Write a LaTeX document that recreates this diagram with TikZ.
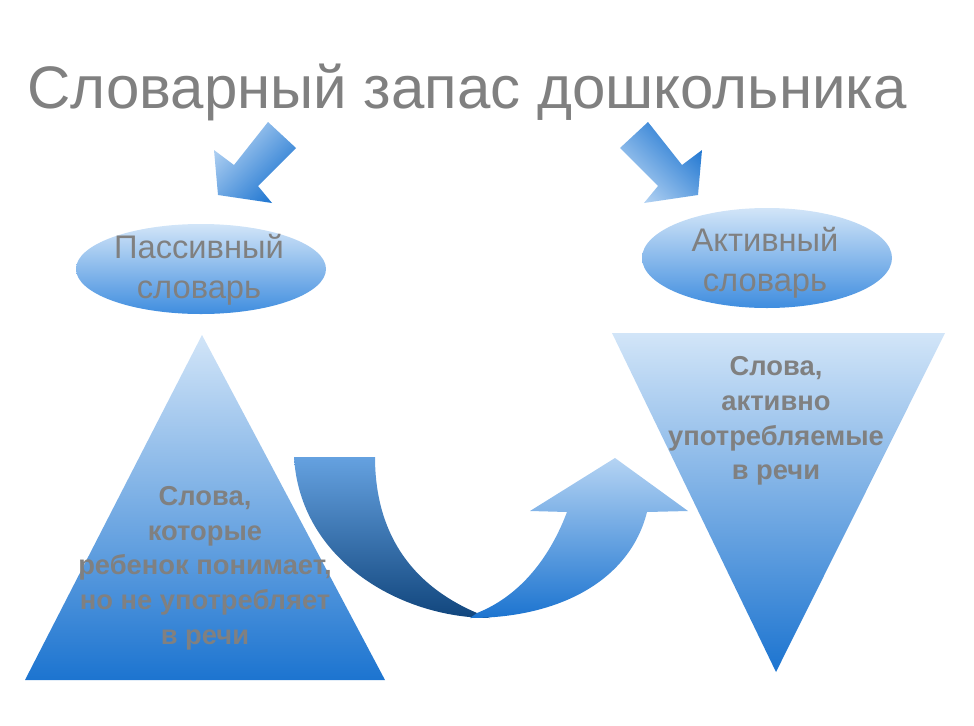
\documentclass[tikz,border=0pt]{standalone}
\usepackage{fontspec}
\setmainfont{Liberation Sans}
\usetikzlibrary{shapes.geometric}
\begin{document}
\begin{tikzpicture}[x=0.75pt,y=-0.75pt,
  lbl/.style={text=txtgray,align=center,font=\fontsize{24.5}{30}\selectfont},
  tri/.style={text=txtgray,align=center,font=\bfseries\fontsize{20.5}{26}\selectfont},
  ell/.style={ellipse,top color=lblue,bottom color=mblue,draw=none,inner sep=0pt}]
\definecolor{txtgray}{HTML}{808080}
\definecolor{lblue}{HTML}{D2E5F8}
\definecolor{mblue}{HTML}{3F8DDF}
\definecolor{dblue}{HTML}{1C74D0}
\useasboundingbox (0,0) rectangle (974,725);
% title
\node[text=txtgray,font=\fontsize{45}{50}\selectfont] (title) at (467,92) {Словарный запас дошкольника};
% small arrows
\shade[left color=lblue!80!mblue,right color=dblue,shading angle=45]
 (268,122) -- (296,148) -- (258,186) -- (272,203) -- (218,195) -- (214,150) -- (234,165) -- cycle;
\shade[right color=lblue!80!mblue,left color=dblue,shading angle=-45]
 (648,122) -- (620,148) -- (658,186) -- (644,203) -- (698,195) -- (702,150) -- (682,165) -- cycle;
% triangles
\shade[top color=lblue,bottom color=dblue] (202,335) -- (385,680) -- (25,680) -- cycle;
\shade[top color=lblue,bottom color=dblue] (612,333) -- (945,333) -- (776,672) -- cycle;
% ellipses
\node[ell,minimum width=187.5pt,minimum height=67.5pt] (pas) at (201,269) {};
\node[ell,minimum width=187.5pt,minimum height=75pt] (act) at (767,258) {};
\node[lbl] at (199,270) {Пассивный\\словарь};
\node[lbl] at (765,263) {Активный\\словарь};
% U arrow
\shade[top color=lblue!40!dblue,bottom color=dblue!60!black]
 (294,457) .. controls (300,560) and (400,618) .. (490,618) -- (477,613) .. controls (400,580) and (375,520) .. (375,457) -- cycle;
\shade[top color=lblue!80!mblue,bottom color=dblue]
 (470,618) .. controls (560,618) and (630,580) .. (647,512) -- (688,511) -- (615,458) -- (530,511) -- (567,512) .. controls (545,570) and (510,600) .. (477,613) -- cycle;
% triangle texts
\node[tri] (lt) at (205,568) {Слова,\\которые\\ребенок понимает,\\но не употребляет\\в речи};
\node[tri] (rt) at (776,421) {Слова,\\активно\\употребляемые\\в речи};
\end{tikzpicture}
\end{document}
